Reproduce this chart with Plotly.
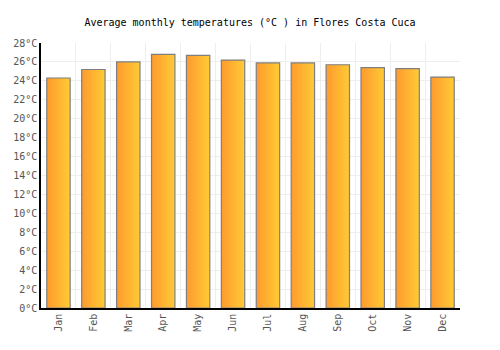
import plotly.graph_objects as go

months = ["Jan", "Feb", "Mar", "Apr", "May", "Jun", "Jul", "Aug", "Sep", "Oct", "Nov", "Dec"]
temps = [24.3, 25.2, 26.0, 26.8, 26.7, 26.2, 25.9, 25.9, 25.7, 25.4, 25.3, 24.4]
y_ticks = list(range(0, 29, 2))
y_ticklabels = [f"{v}°C" for v in y_ticks]

half = 0.335
font = "DejaVu Sans Mono"

fig = go.Figure()
for i, (m, t) in enumerate(zip(months, temps)):
    fig.add_trace(go.Scatter(
        x=[i - half, i + half, i + half, i - half, i - half],
        y=[0, 0, t, t, 0],
        mode="lines",
        fill="toself",
        line=dict(color="#7f7f7f", width=1.2),
        fillgradient=dict(type="horizontal", start=i - half, stop=i + half,
                          colorscale=[[0, "#ff9a2e"], [1, "#ffcb35"]]),
        hoverinfo="text",
        text=f"{m}: {t}°C",
        showlegend=False,
    ))

fig.update_layout(
    width=500, height=350,
    margin=dict(l=41, r=40, t=43, b=42),
    paper_bgcolor="white", plot_bgcolor="white",
    font=dict(family=font, size=10, color="#555555"),
    title=dict(text="Average monthly temperatures (°C ) in Flores Costa Cuca",
               x=0.5, xanchor="center", y=0.937, yanchor="middle",
               font=dict(family=font, size=10, color="#000000")),
    xaxis=dict(range=[-0.5, 11.5], tickmode="array",
               tickvals=list(range(len(months))), ticktext=months,
               tickangle=-90, showgrid=False, zeroline=False,
               showline=True, linecolor="#000000", linewidth=1.5,
               ticks="", fixedrange=True,
               minor=dict(tickvals=[i + 0.5 for i in range(-1, 12)],
                          showgrid=True, gridcolor="#eeeeee", gridwidth=1, ticks="")),
    yaxis=dict(range=[0, 28], tickmode="array", tickvals=y_ticks,
               ticktext=y_ticklabels, showgrid=True, gridcolor="#eeeeee",
               gridwidth=1, zeroline=False, showline=True,
               linecolor="#000000", linewidth=1.5, ticks="", fixedrange=True),
)

fig.write_html("out.html")
